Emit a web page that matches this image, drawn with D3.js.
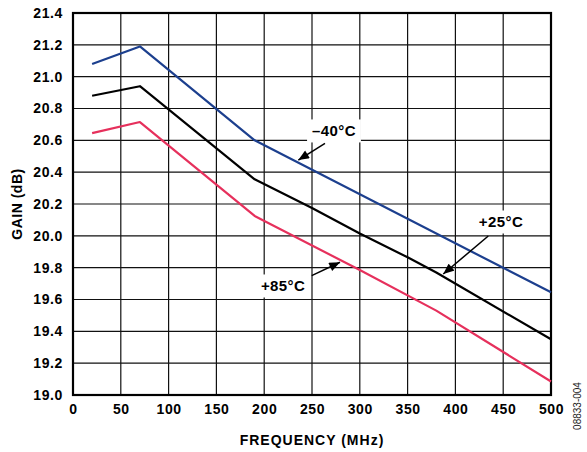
<!DOCTYPE html>
<html>
<head>
<meta charset="utf-8">
<script src="https://cdn.jsdelivr.net/npm/d3@7"></script>
<style>
  html, body { margin: 0; padding: 0; background: #fff; }
  svg { display: block; }
  text { font-family: "Liberation Sans", Arial, Helvetica, sans-serif; }
</style>
</head>
<body>
<svg id="chart" width="587" height="452"></svg>
<script>
// ---- Data ----
const freqNeg40 = [20, 70, 190, 500];
const gainNeg40 = [21.08, 21.19, 20.60, 19.645];

const freq25 = [20, 70, 190, 250, 300, 350, 380, 500];
const gain25 = [20.88, 20.94, 20.355, 20.175, 20.015, 19.865, 19.77, 19.35];

const freq85 = [20, 70, 190, 300, 380, 500];
const gain85 = [20.645, 20.715, 20.125, 19.785, 19.53, 19.085];

const xTicks = [0, 50, 100, 150, 200, 250, 300, 350, 400, 450, 500];
const yTicks = [19.0, 19.2, 19.4, 19.6, 19.8, 20.0, 20.2, 20.4, 20.6, 20.8, 21.0, 21.2, 21.4];

const seriesNames = ["–40°C", "+25°C", "+85°C"];
const seriesColors = ["#1c3f8e", "#000000", "#e6305c"];

// annotation label anchors and arrows in data units (MHz, dB)
const labelPos = [[273, 20.659], [447.7, 20.087], [219.7, 19.685]];
const arrowFrom = [[263.6, 20.581], [434.4, 19.999], [249.7, 19.75]];
const arrowTo = [[235.7, 20.476], [387.3, 19.76], [279.3, 19.834]];

// ---- Layout ----
const svg = d3.select("#chart");
const L = 73, R = 551, T = 13, B = 395;

const x = d3.scaleLinear().domain([0, 500]).range([L, R]);
const y = d3.scaleLinear().domain([19.0, 21.4]).range([B, T]);

// gridlines
const grid = svg.append("g");
grid.selectAll("line.v").data(xTicks.slice(1, -1)).join("line")
  .attr("x1", d => x(d)).attr("x2", d => x(d))
  .attr("y1", T).attr("y2", B)
  .attr("stroke", "#111").attr("stroke-width", 1.2);
grid.selectAll("line.h").data(yTicks.slice(1, -1)).join("line")
  .attr("y1", d => y(d)).attr("y2", d => y(d))
  .attr("x1", L).attr("x2", R)
  .attr("stroke", "#111").attr("stroke-width", 1.2);

// frame
svg.append("rect").attr("x", L).attr("y", T).attr("width", R - L).attr("height", B - T)
  .attr("fill", "none").attr("stroke", "#000").attr("stroke-width", 2.2);

// axes labels via d3 axes
const xAxis = d3.axisBottom(x).tickValues(xTicks).tickSize(0).tickPadding(9).tickFormat(d3.format("d"));
const gx = svg.append("g").attr("transform", `translate(0,${B})`).call(xAxis);
gx.select(".domain").remove();
gx.selectAll("text").attr("font-size", 14).attr("font-weight", "bold")
  .attr("letter-spacing", "0.6px").attr("fill", "#000")
  .attr("font-family", '"Liberation Sans", Arial, sans-serif');

const yAxis = d3.axisLeft(y).tickValues(yTicks).tickSize(0).tickPadding(10).tickFormat(d3.format(".1f"));
const gy = svg.append("g").attr("transform", `translate(${L},0)`).call(yAxis);
gy.select(".domain").remove();
gy.selectAll("text").attr("font-size", 14).attr("font-weight", "bold")
  .attr("letter-spacing", "0.6px").attr("fill", "#000")
  .attr("font-family", '"Liberation Sans", Arial, sans-serif');

// axis titles
svg.append("text").attr("x", 312).attr("y", 445).attr("text-anchor", "middle")
  .attr("font-size", 14).attr("font-weight", "bold").attr("letter-spacing", "1px")
  .text("FREQUENCY (MHz)");
svg.append("text").attr("transform", `translate(21.5,${(T + B) / 2}) rotate(-90)`)
  .attr("text-anchor", "middle").attr("font-size", 14).attr("font-weight", "bold")
  .attr("letter-spacing", "0.5px")
  .text("GAIN (dB)");
svg.append("text").attr("transform", "translate(581,406) rotate(-90)")
  .attr("text-anchor", "middle").attr("font-size", 10).attr("fill", "#222")
  .text("08833-004");

// lines
const series = [
  d3.zip(freqNeg40, gainNeg40),
  d3.zip(freq25, gain25),
  d3.zip(freq85, gain85)
];
const line = d3.line().x(d => x(d[0])).y(d => y(d[1]));
svg.append("g").selectAll("path").data(series).join("path")
  .attr("d", line).attr("fill", "none")
  .attr("stroke", (d, i) => seriesColors[i]).attr("stroke-width", 2.2)
  .attr("stroke-linejoin", "round");

// arrow marker
svg.append("defs").append("marker")
  .attr("id", "ah").attr("viewBox", "0 0 12 10").attr("refX", 12).attr("refY", 5)
  .attr("markerWidth", 12).attr("markerHeight", 9).attr("markerUnits", "userSpaceOnUse")
  .attr("orient", "auto")
  .append("path").attr("d", "M0,0 L12,5 L0,10 Z").attr("fill", "#000");

// annotations
const ann = svg.append("g");
seriesNames.forEach((name, i) => {
  const cx = x(labelPos[i][0]), cy = y(labelPos[i][1]);
  const t = ann.append("text").attr("x", cx).attr("y", cy + 5.5)
    .attr("text-anchor", "middle").attr("font-size", 15).attr("font-weight", "bold")
    .attr("letter-spacing", "0.4px").text(name);
  const bb = t.node().getBBox();
  ann.insert("rect", "text").attr("x", bb.x - 5).attr("y", bb.y - 3)
    .attr("width", bb.width + 10).attr("height", bb.height + 6).attr("fill", "#fff");
  ann.append("line")
    .attr("x1", x(arrowFrom[i][0])).attr("y1", y(arrowFrom[i][1]))
    .attr("x2", x(arrowTo[i][0])).attr("y2", y(arrowTo[i][1]))
    .attr("stroke", "#000").attr("stroke-width", 1.5).attr("marker-end", "url(#ah)");
});
</script>
</body>
</html>
